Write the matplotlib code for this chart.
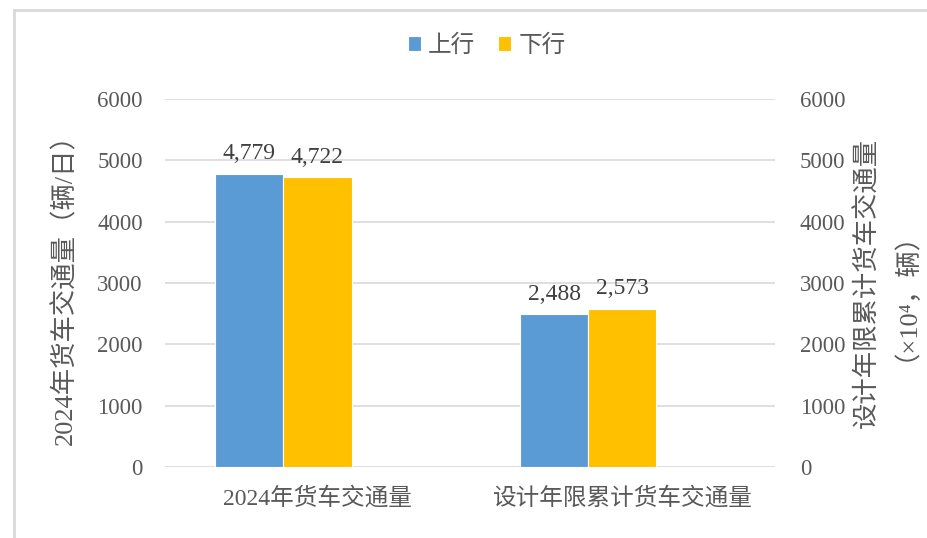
import matplotlib
matplotlib.use('Agg')
import matplotlib.pyplot as plt
from matplotlib.lines import Line2D
import numpy as np

plt.rcParams['font.family'] = ['Liberation Serif', 'Noto Sans CJK SC', 'DejaVu Sans']

# Data
categories = ['2024年货车交通量', '设计年限累计货车交通量']
series_names = ['上行', '下行']
up_values = [4779, 2488]
down_values = [4722, 2573]
yticks = [0, 1000, 2000, 3000, 4000, 5000, 6000]

left_label = '2024年货车交通量（辆/日）'
right_label = '设计年限累计货车交通量\n（×10⁴，辆）'

blue = '#5B9BD5'
gold = '#FFC000'
grid_col = '#D9D9D9'
text_col = '#595959'

fig = plt.figure(figsize=(9.27, 5.38), dpi=100)
ax = fig.add_axes([0.178, 0.132, 0.658, 0.684])

x = np.arange(len(categories))
width = 0.223

b1 = ax.bar(x - 1.5 * width, up_values, width, align='edge', color=blue,
            edgecolor='white', linewidth=0.8, label=series_names[0], zorder=3)
b2 = ax.bar(x - 0.5 * width, down_values, width, align='edge', color=gold,
            edgecolor='white', linewidth=0.8, label=series_names[1], zorder=3)

for rects, vals in [(b1, up_values), (b2, down_values)]:
    for r, v in zip(rects, vals):
        ax.annotate(f'{v:,}', (r.get_x() + r.get_width() / 2, v),
                    xytext=(0, 7), textcoords='offset points',
                    ha='center', va='bottom', fontsize=17, color='#404040')

ax.set_xlim(-0.5, 1.5)
ax.set_ylim(0, 6000)
ax.set_yticks(yticks)
ax.set_xticks(x)
ax.set_xticklabels(categories, fontsize=17, color=text_col)
ax.tick_params(axis='y', labelsize=16.5, labelcolor=text_col, length=0, pad=16)
ax.tick_params(axis='x', length=0, pad=14)
ax.yaxis.grid(True, color=grid_col, linewidth=1.2, zorder=0)
for s in ax.spines.values():
    s.set_visible(False)
ax.set_ylabel(left_label, fontsize=19, color=text_col, labelpad=14)

ax2 = ax.twinx()
ax2.set_ylim(0, 6000)
ax2.set_yticks(yticks)
ax2.tick_params(axis='y', labelsize=16.5, labelcolor=text_col, length=0, pad=18)
for s in ax2.spines.values():
    s.set_visible(False)
ax2.set_ylabel(right_label, fontsize=19, color=text_col, labelpad=6,
               linespacing=1.0)

fig.legend(handles=[b1, b2], loc='center', bbox_to_anchor=(0.525, 0.915),
           ncol=2, frameon=False, fontsize=17, handlelength=0.55,
           handleheight=0.55, handletextpad=0.3, columnspacing=1.0,
           labelcolor=text_col)

# outer chart border (top and left edges)
fig.add_artist(Line2D([14 / 927, 1.0], [1 - 10 / 538, 1 - 10 / 538],
                      transform=fig.transFigure, color=grid_col, linewidth=2))
fig.add_artist(Line2D([14 / 927, 14 / 927], [0, 1 - 10 / 538],
                      transform=fig.transFigure, color=grid_col, linewidth=2))

fig.savefig('out.png', dpi=100, facecolor='white')
